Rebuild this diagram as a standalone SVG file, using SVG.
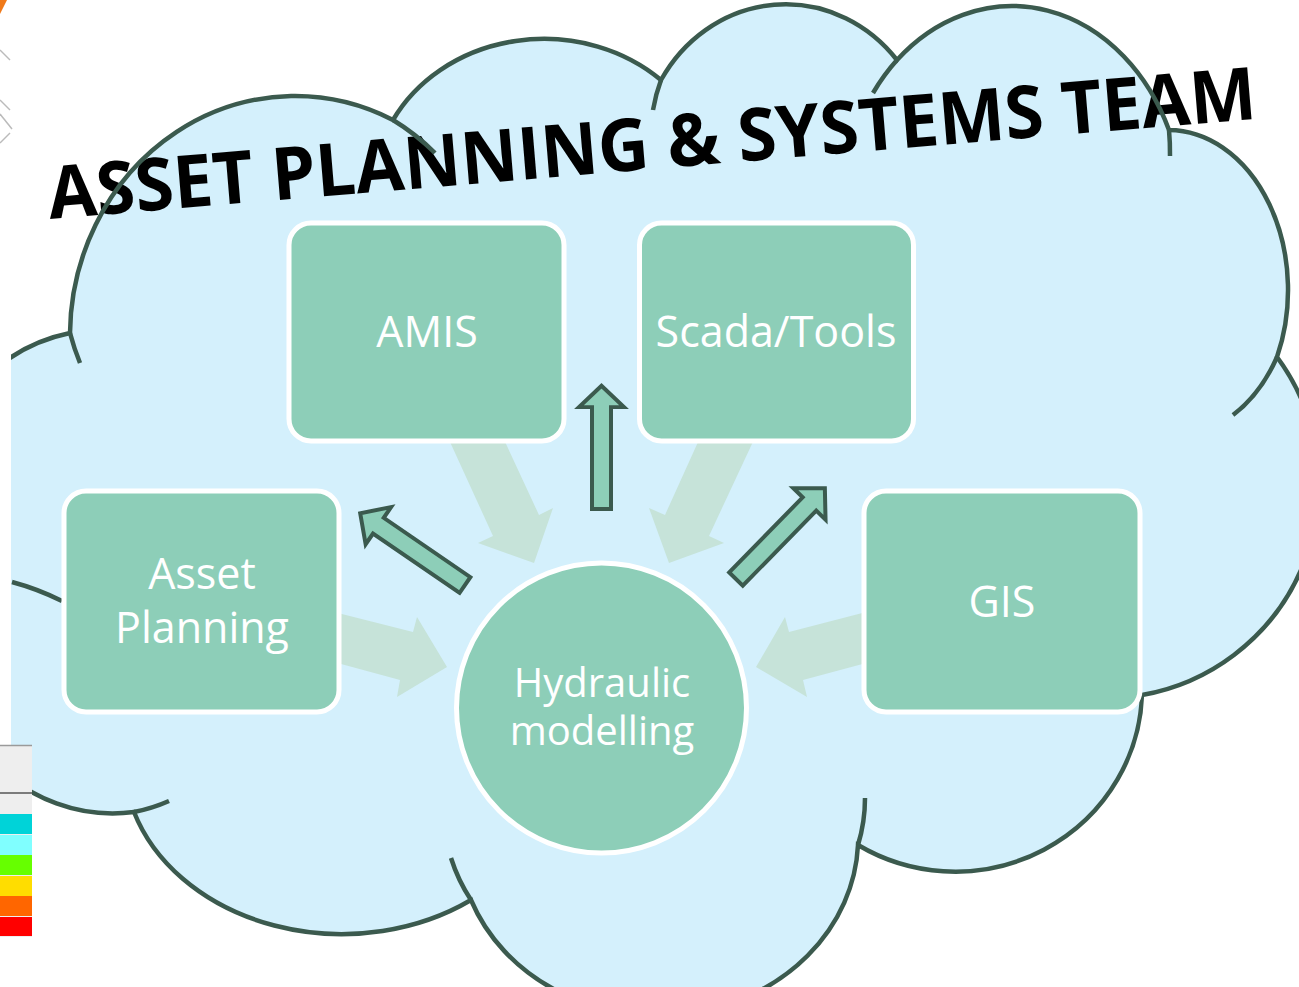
<svg xmlns="http://www.w3.org/2000/svg" width="1299" height="987" viewBox="0 0 1299 987">
<style>
.cloudline{fill:none;stroke:#3B5A4E;stroke-width:4.5;stroke-linecap:butt}
.box{fill:#8DCEB8;stroke:#FFFFFF;stroke-width:5}
.lbl{font-family:"Open Sans","Noto Sans","Liberation Sans",sans-serif;font-weight:400;fill:#FFFFFF;text-anchor:middle}
.fade{fill:#C6E3D9}
.arr{fill:#8DCEB8;stroke:#3B5A4E;stroke-width:4;stroke-linejoin:miter}
.frag{stroke:#BBBBBB;stroke-width:1.5;fill:none}
</style>
<defs>
<clipPath id="clipL"><rect x="11" y="0" width="1288" height="987"/></clipPath>
<polygon id="arrowShape" points="0,-9.5 105,-9.5 105,-22.5 127,0 105,22.5 105,9.5 0,9.5"/>
</defs>
<rect width="1299" height="987" fill="#FFFFFF"/>
<g id="fragments">
<polygon points="0,0 7,0 0,14" fill="#F07A1A"/>
<line class="frag" x1="0" y1="50" x2="10" y2="60"/>
<line class="frag" x1="0" y1="100" x2="10" y2="110"/>
<line class="frag" x1="0" y1="114" x2="12" y2="129"/>
<line class="frag" x1="0" y1="143" x2="10" y2="133"/>
</g>
<g id="cloud" clip-path="url(#clipL)">
<path id="cloud-fill" fill="#D4F0FC" stroke="none" d="M70 333 A225 240 0 0 1 393 120 A170 150 0 0 1 661 80 A145 155 0 0 1 897 60 A172 210 0 0 1 1169 130 A120 160 0 0 1 1277 357 A214 214 0 0 1 1142 695 A187 183 0 0 1 858 845 A200 178 0 0 1 471 900 A218 175 0 0 1 134 812 A164 164 0 0 1 -40 590 A170 170 0 0 1 70 333 Z"/>
</g>
<g id="title">
<text transform="translate(50,219) rotate(-4.75)" x="0" y="0" font-family="'Open Sans','Noto Sans','Liberation Sans',sans-serif" font-weight="bold" font-size="73" fill="#000000" textLength="1212" lengthAdjust="spacingAndGlyphs">ASSET PLANNING &amp; SYSTEMS TEAM</text>
</g>
<g id="cloud-outline" clip-path="url(#clipL)">
<path class="cloudline" d="M70 333 A225 240 0 0 1 393 120 A170 150 0 0 1 661 80 A145 155 0 0 1 897 60 A172 210 0 0 1 1169 130 A120 160 0 0 1 1277 357 A214 214 0 0 1 1142 695 A187 183 0 0 1 858 845 A200 178 0 0 1 471 900 A218 175 0 0 1 134 812 A164 164 0 0 1 -40 590 A170 170 0 0 1 70 333 Z"/>
<path class="cloudline" d="M80 363 A225 240 0 0 1 70 333"/>
<path class="cloudline" d="M393 120 A225 240 0 0 1 435 153"/>
<path class="cloudline" d="M653 110 A145 155 0 0 1 661 80"/>
<path class="cloudline" d="M873 93 A172 210 0 0 1 897 60"/>
<path class="cloudline" d="M1169 130 A172 210 0 0 1 1170 156"/>
<path class="cloudline" d="M1277 357 A120 160 0 0 1 1233 415"/>
<path class="cloudline" d="M865 798 A200 178 0 0 1 858 845"/>
<path class="cloudline" d="M471 900 A200 178 0 0 1 451 858"/>
<path class="cloudline" d="M169 801 A164 164 0 0 1 134 812"/>
<path class="cloudline" d="M12 582 Q38 589 62 601"/>
</g>
<g id="connectors">
<polygon class="fade" points="445,431 500,431 539,515 553,508 534,563 478,543 493,536"/>
<polygon class="fade" points="703,431 758,431 709,536 724,543 669,563 649,508 665,515"/>
<polygon class="fade" points="330,611 413,632 417,617 447,667 397,697 400,680 330,661"/>
<polygon class="fade" points="870,611 789,632 785,617 756,667 807,697 803,680 870,662"/>
<use href="#arrowShape" class="arr" transform="translate(601.5,509) rotate(-90) scale(0.97,1)"/>
<use href="#arrowShape" class="arr" transform="translate(465,585) rotate(-145.6)"/>
<use href="#arrowShape" class="arr" transform="translate(736,579) rotate(-45.6)"/>
</g>
<g id="node-amis">
<rect class="box" x="289" y="223" width="275" height="218" rx="22"/>
<text class="lbl" x="427" y="347" font-size="43">AMIS</text>
</g>
<g id="node-scada">
<rect class="box" x="639.5" y="223" width="274" height="218" rx="22"/>
<text class="lbl" x="776" y="347" font-size="43">Scada/Tools</text>
</g>
<g id="node-asset-planning">
<rect class="box" x="64" y="491" width="275" height="221" rx="22"/>
<text class="lbl" x="202" y="589" font-size="43">Asset</text>
<text class="lbl" x="202" y="643" font-size="43">Planning</text>
</g>
<g id="node-gis">
<rect class="box" x="864" y="491" width="276" height="221" rx="22"/>
<text class="lbl" x="1002" y="617" font-size="43">GIS</text>
</g>
<g id="node-hydraulic">
<circle class="box" cx="601.5" cy="708" r="145"/>
<text class="lbl" x="602" y="697" font-size="40">Hydraulic</text>
<text class="lbl" x="602" y="745" font-size="40">modelling</text>
</g>
<g id="legend">
<rect x="0" y="745" width="32" height="192" fill="#EEEEEE"/>
<line x1="0" y1="745.5" x2="32" y2="745.5" stroke="#9A9A9A" stroke-width="1.5"/>
<line x1="0" y1="793" x2="32" y2="793" stroke="#555555" stroke-width="1.5"/>
<rect x="0" y="814" width="32" height="20" fill="#00D3D8"/>
<rect x="0" y="835" width="32" height="20" fill="#80FFFF"/>
<rect x="0" y="855" width="32" height="20" fill="#66FF00"/>
<rect x="0" y="876" width="32" height="20" fill="#FFDD00"/>
<rect x="0" y="896" width="32" height="20" fill="#FF6600"/>
<rect x="0" y="917" width="32" height="19" fill="#FF0000"/>
</g>
</svg>
